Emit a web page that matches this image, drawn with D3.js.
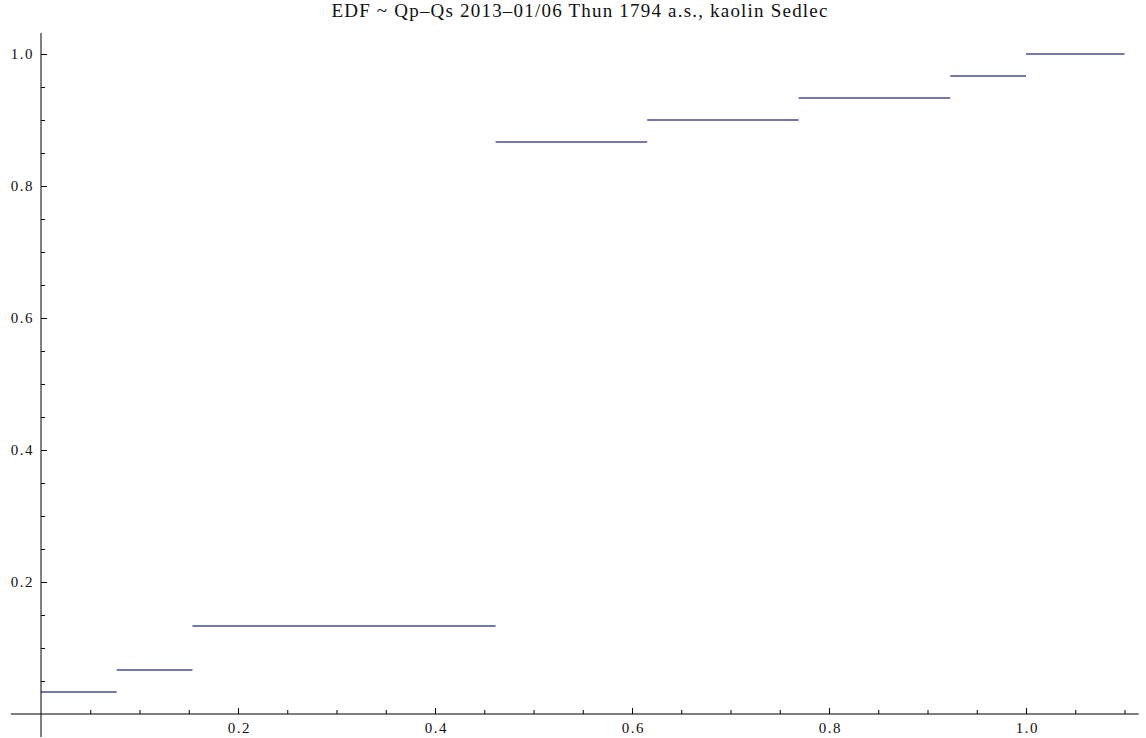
<!DOCTYPE html>
<html>
<head>
<meta charset="utf-8">
<script src="https://cdn.jsdelivr.net/npm/d3@7"></script>
<style>
  html, body { margin: 0; padding: 0; background: #fff; }
  svg text { font-family: "Liberation Serif", "DejaVu Serif", serif; fill: #111; }
</style>
</head>
<body>
<div id="chart"></div>
<script>
// EDF step plot (Mathematica-style ListPlot look)

// jump points of the EDF and the level after each jump
const stepX = [0, 0.0769, 0.1538, 0.4615, 0.6154, 0.7692, 0.9231, 1.0];
const stepY = [0.0333, 0.0667, 0.1333, 0.8667, 0.9, 0.9333, 0.9667, 1.0];
const stepEnd = 1.1;   // last level runs to the edge of the plot range

const xTicks = [0.2, 0.4, 0.6, 0.8, 1.0];
const yTicks = [0.2, 0.4, 0.6, 0.8, 1.0];
const xMinor = d3.range(1, 23).map(i => i * 0.05).filter(v => !xTicks.some(t => Math.abs(t - v) < 1e-6));
const yMinor = d3.range(1, 21).map(i => i * 0.05).filter(v => !yTicks.some(t => Math.abs(t - v) < 1e-6));

const xRange = [-0.0305, 1.1145];
const yRange = [-0.035, 1.032];

const title = 'EDF ~ Qp\u2013Qs 2013\u201301/06 Thun 1794 a.s., kaolin Sedlec';

const W = 1146, H = 738;

const svg = d3.select('#chart').append('svg')
  .attr('width', W)
  .attr('height', H);

const x = d3.scaleLinear().domain([0, 1]).range([41, 1026]);
const y = d3.scaleLinear().domain([0, 1]).range([714, 54]);

const segs = stepX.map((x0, i) => ({
  x0,
  x1: i < stepX.length - 1 ? stepX[i + 1] : stepEnd,
  y: stepY[i]
}));

// step segments
svg.append('g')
  .selectAll('line')
  .data(segs)
  .join('line')
  .attr('x1', d => x(d.x0))
  .attr('x2', d => x(d.x1))
  .attr('y1', d => y(d.y))
  .attr('y2', d => y(d.y))
  .attr('stroke', '#4a4a94')
  .attr('stroke-width', 1.7);

// x axis
const gx = svg.append('g').attr('transform', `translate(0,${y(0)})`);
gx.append('line')
  .attr('x1', x(xRange[0])).attr('x2', x(xRange[1]))
  .attr('stroke', '#000');
gx.append('g')
  .call(d3.axisBottom(x).tickValues(xTicks).tickSize(-6).tickPadding(8).tickFormat(d3.format('.1f')))
  .call(g => g.select('.domain').remove())
  .call(g => g.selectAll('text').attr('font-size', 15).attr('letter-spacing', '1.5px').attr('dx', '0.75px'));
gx.append('g')
  .call(d3.axisBottom(x).tickValues(xMinor).tickSize(-4).tickFormat(''))
  .call(g => g.select('.domain').remove());

// y axis
const gy = svg.append('g').attr('transform', `translate(${x(0)},0)`);
gy.append('line')
  .attr('y1', y(yRange[0])).attr('y2', y(yRange[1]))
  .attr('stroke', '#000');
gy.append('g')
  .call(d3.axisLeft(y).tickValues(yTicks).tickSize(-6).tickPadding(7).tickFormat(d3.format('.1f')))
  .call(g => g.select('.domain').remove())
  .call(g => g.selectAll('text').attr('font-size', 15).attr('letter-spacing', '1.5px'));
gy.append('g')
  .call(d3.axisLeft(y).tickValues(yMinor).tickSize(-4).tickFormat(''))
  .call(g => g.select('.domain').remove());

// title
svg.append('text')
  .attr('x', 580)
  .attr('y', 17)
  .attr('text-anchor', 'middle')
  .attr('font-size', 19)
  .attr('letter-spacing', '1.2px')
  .text(title);
</script>
</body>
</html>
